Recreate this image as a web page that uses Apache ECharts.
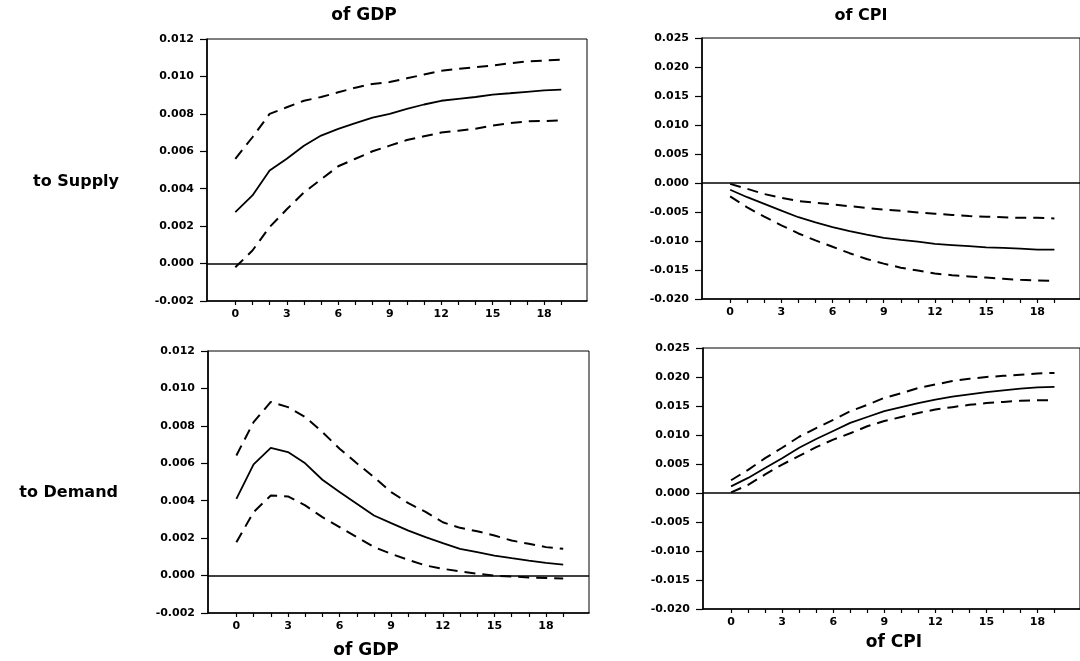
<!DOCTYPE html>
<html>
<head>
<meta charset="utf-8">
<script src="https://cdn.jsdelivr.net/npm/echarts@6/dist/echarts.min.js"></script>
<style>html,body{margin:0;padding:0;background:#fff}#c{width:1080px;height:661px}</style>
</head>
<body>
<div id="c"></div>
<script>
// horizon steps
const steps = [0,1,2,3,4,5,6,7,8,9,10,11,12,13,14,15,16,17,18,19];
const xTickLabels = [0,3,6,9,12,15,18];

// Supply shock -> GDP
const gdpSupply   = [0.00275,0.00364,0.00497,0.0056,0.0063,0.00684,0.0072,0.0075,0.0078,0.0080,0.00827,0.0085,0.0087,0.0088,0.0089,0.00903,0.0091,0.00918,0.00925,0.0093];
const gdpSupplyUp = [0.0056,0.00675,0.0080,0.00835,0.0087,0.0089,0.00915,0.0094,0.0096,0.0097,0.0099,0.0101,0.0103,0.0104,0.0105,0.01058,0.0107,0.0108,0.01085,0.0109];
const gdpSupplyLo = [-0.0002,0.0007,0.00195,0.0029,0.0038,0.0045,0.0052,0.0056,0.0060,0.0063,0.0066,0.0068,0.0070,0.0071,0.0072,0.00737,0.0075,0.0076,0.00762,0.00765];

// Supply shock -> CPI
const cpiSupply   = [-0.00117,-0.00245,-0.0036,-0.00475,-0.0059,-0.0068,-0.0076,-0.0083,-0.0089,-0.00946,-0.0098,-0.0101,-0.0105,-0.0107,-0.0109,-0.0111,-0.0112,-0.0113,-0.01148,-0.0115];
const cpiSupplyUp = [-0.00015,-0.001,-0.0019,-0.00255,-0.0031,-0.0034,-0.0037,-0.004,-0.0043,-0.0046,-0.0048,-0.0051,-0.0053,-0.0055,-0.0057,-0.0058,-0.0059,-0.006,-0.006,-0.0061];
const cpiSupplyLo = [-0.0023,-0.0042,-0.0058,-0.0073,-0.0087,-0.0099,-0.011,-0.0121,-0.0131,-0.0139,-0.0146,-0.0151,-0.0156,-0.0159,-0.0161,-0.0163,-0.0165,-0.0167,-0.0168,-0.0169];

// Demand shock -> GDP
const gdpDemand   = [0.0041,0.00594,0.00682,0.0066,0.0060,0.00512,0.00446,0.00384,0.00321,0.0028,0.0024,0.00205,0.00173,0.00143,0.00125,0.00107,0.00093,0.0008,0.00068,0.00059];
const gdpDemandUp = [0.00642,0.0082,0.00928,0.0090,0.00847,0.00767,0.00678,0.0060,0.00526,0.00446,0.00387,0.0034,0.00285,0.00255,0.00237,0.00214,0.00187,0.0017,0.00152,0.00143];
const gdpDemandLo = [0.00178,0.00339,0.00428,0.00423,0.00375,0.00312,0.00259,0.00205,0.00152,0.00116,0.00084,0.00054,0.00036,0.00023,0.0001,0.0,-0.00005,-0.0001,-0.00013,-0.00015];

// Demand shock -> CPI
const cpiDemand   = [0.00115,0.0026,0.0043,0.006,0.0078,0.0093,0.0107,0.0121,0.0131,0.0141,0.0148,0.0155,0.0161,0.0166,0.017,0.0174,0.0177,0.018,0.0182,0.0183];
const cpiDemandUp = [0.0022,0.004,0.006,0.0078,0.0097,0.0112,0.0126,0.0141,0.0152,0.0164,0.0172,0.0181,0.0187,0.0193,0.0197,0.02,0.0202,0.0204,0.0206,0.0207];
const cpiDemandLo = [0.0001,0.0014,0.0032,0.0049,0.0064,0.0079,0.0092,0.0103,0.0115,0.0124,0.0131,0.0138,0.0144,0.0148,0.0152,0.0155,0.0157,0.0159,0.016,0.016];

const chart = echarts.init(document.getElementById('c'), null, {renderer:'canvas'});
const FONT = 'DejaVu Sans';

const grids = [
  {left:207, top:39, width:380, height:262},
  {left:702, top:38, width:383, height:261},
  {left:208, top:351, width:381, height:262},
  {left:703, top:348, width:382, height:261}
];
const yRanges = [
  {min:-0.002, max:0.012, interval:0.002},
  {min:-0.02, max:0.025, interval:0.005},
  {min:-0.002, max:0.012, interval:0.002},
  {min:-0.02, max:0.025, interval:0.005}
];
const panels = [
  [gdpSupply, gdpSupplyUp, gdpSupplyLo],
  [cpiSupply, cpiSupplyUp, cpiSupplyLo],
  [gdpDemand, gdpDemandUp, gdpDemandLo],
  [cpiDemand, cpiDemandUp, cpiDemandLo]
];

const xAxis = grids.map((g,i)=>({
  type:'value', gridIndex:i, min:-1.65, max:20.5,
  splitLine:{show:false},
  axisLine:{show:true, onZero:false, lineStyle:{color:'#000', width:1.6}},
  axisTick:{show:true, length:4, customValues:steps, lineStyle:{color:'#000', width:1.2}},
  axisLabel:{customValues:xTickLabels, margin:8, color:'#000', fontFamily:FONT, fontWeight:'bold', fontSize:11}
}));
const yAxis = grids.map((g,i)=>({
  type:'value', gridIndex:i, min:yRanges[i].min, max:yRanges[i].max, interval:yRanges[i].interval,
  splitLine:{show:false},
  axisLine:{show:true, onZero:false, lineStyle:{color:'#000', width:1.6}},
  axisTick:{show:true, length:7, lineStyle:{color:'#000', width:1.2}},
  axisLabel:{margin:13, color:'#000', fontFamily:FONT, fontWeight:'bold', fontSize:11,
    formatter:v=>(Math.abs(v)<1e-9?0:v).toFixed(3)}
}));

const series = [];
panels.forEach((p,i)=>{
  const mk = (arr, dashed, withZero) => {
    const s = {
      type:'line', xAxisIndex:i, yAxisIndex:i, symbol:'none', silent:true,
      data: steps.map((x,k)=>[x, arr[k]]),
      lineStyle:{color:'#000', width: dashed?2:1.8, type: dashed?[11,7]:'solid'},
      z: 3
    };
    if (withZero) {
      s.markLine = {silent:true, symbol:'none', label:{show:false},
        lineStyle:{color:'#000', width:1.6, type:'solid'}, data:[{yAxis:0}]};
    }
    return s;
  };
  series.push(mk(p[0], false, true));
  series.push(mk(p[1], true, false));
  series.push(mk(p[2], true, false));
});

const titleStyle = {fontFamily:FONT, fontWeight:'bold', color:'#000'};
chart.setOption({
  animation:false,
  backgroundColor:'#fff',
  grid: grids.map(g=>Object.assign({show:true, borderColor:'#000', borderWidth:1, backgroundColor:'transparent'}, g)),
  xAxis, yAxis, series,
  graphic:[
    {type:'text', x:364, y:16, style:Object.assign({text:'of GDP', fontSize:17, textAlign:'center', textVerticalAlign:'middle'}, titleStyle)},
    {type:'text', x:861, y:16, style:Object.assign({text:'of CPI', fontSize:16, textAlign:'center', textVerticalAlign:'middle'}, titleStyle)},
    {type:'text', x:119, y:182, style:Object.assign({text:'to Supply', fontSize:16, textAlign:'right', textVerticalAlign:'middle'}, titleStyle)},
    {type:'text', x:118, y:493, style:Object.assign({text:'to Demand', fontSize:16, textAlign:'right', textVerticalAlign:'middle'}, titleStyle)},
    {type:'text', x:366, y:651, style:Object.assign({text:'of GDP', fontSize:17, textAlign:'center', textVerticalAlign:'middle'}, titleStyle)},
    {type:'text', x:894, y:643, style:Object.assign({text:'of CPI', fontSize:17, textAlign:'center', textVerticalAlign:'middle'}, titleStyle)}
  ]
});
</script>
</body>
</html>
